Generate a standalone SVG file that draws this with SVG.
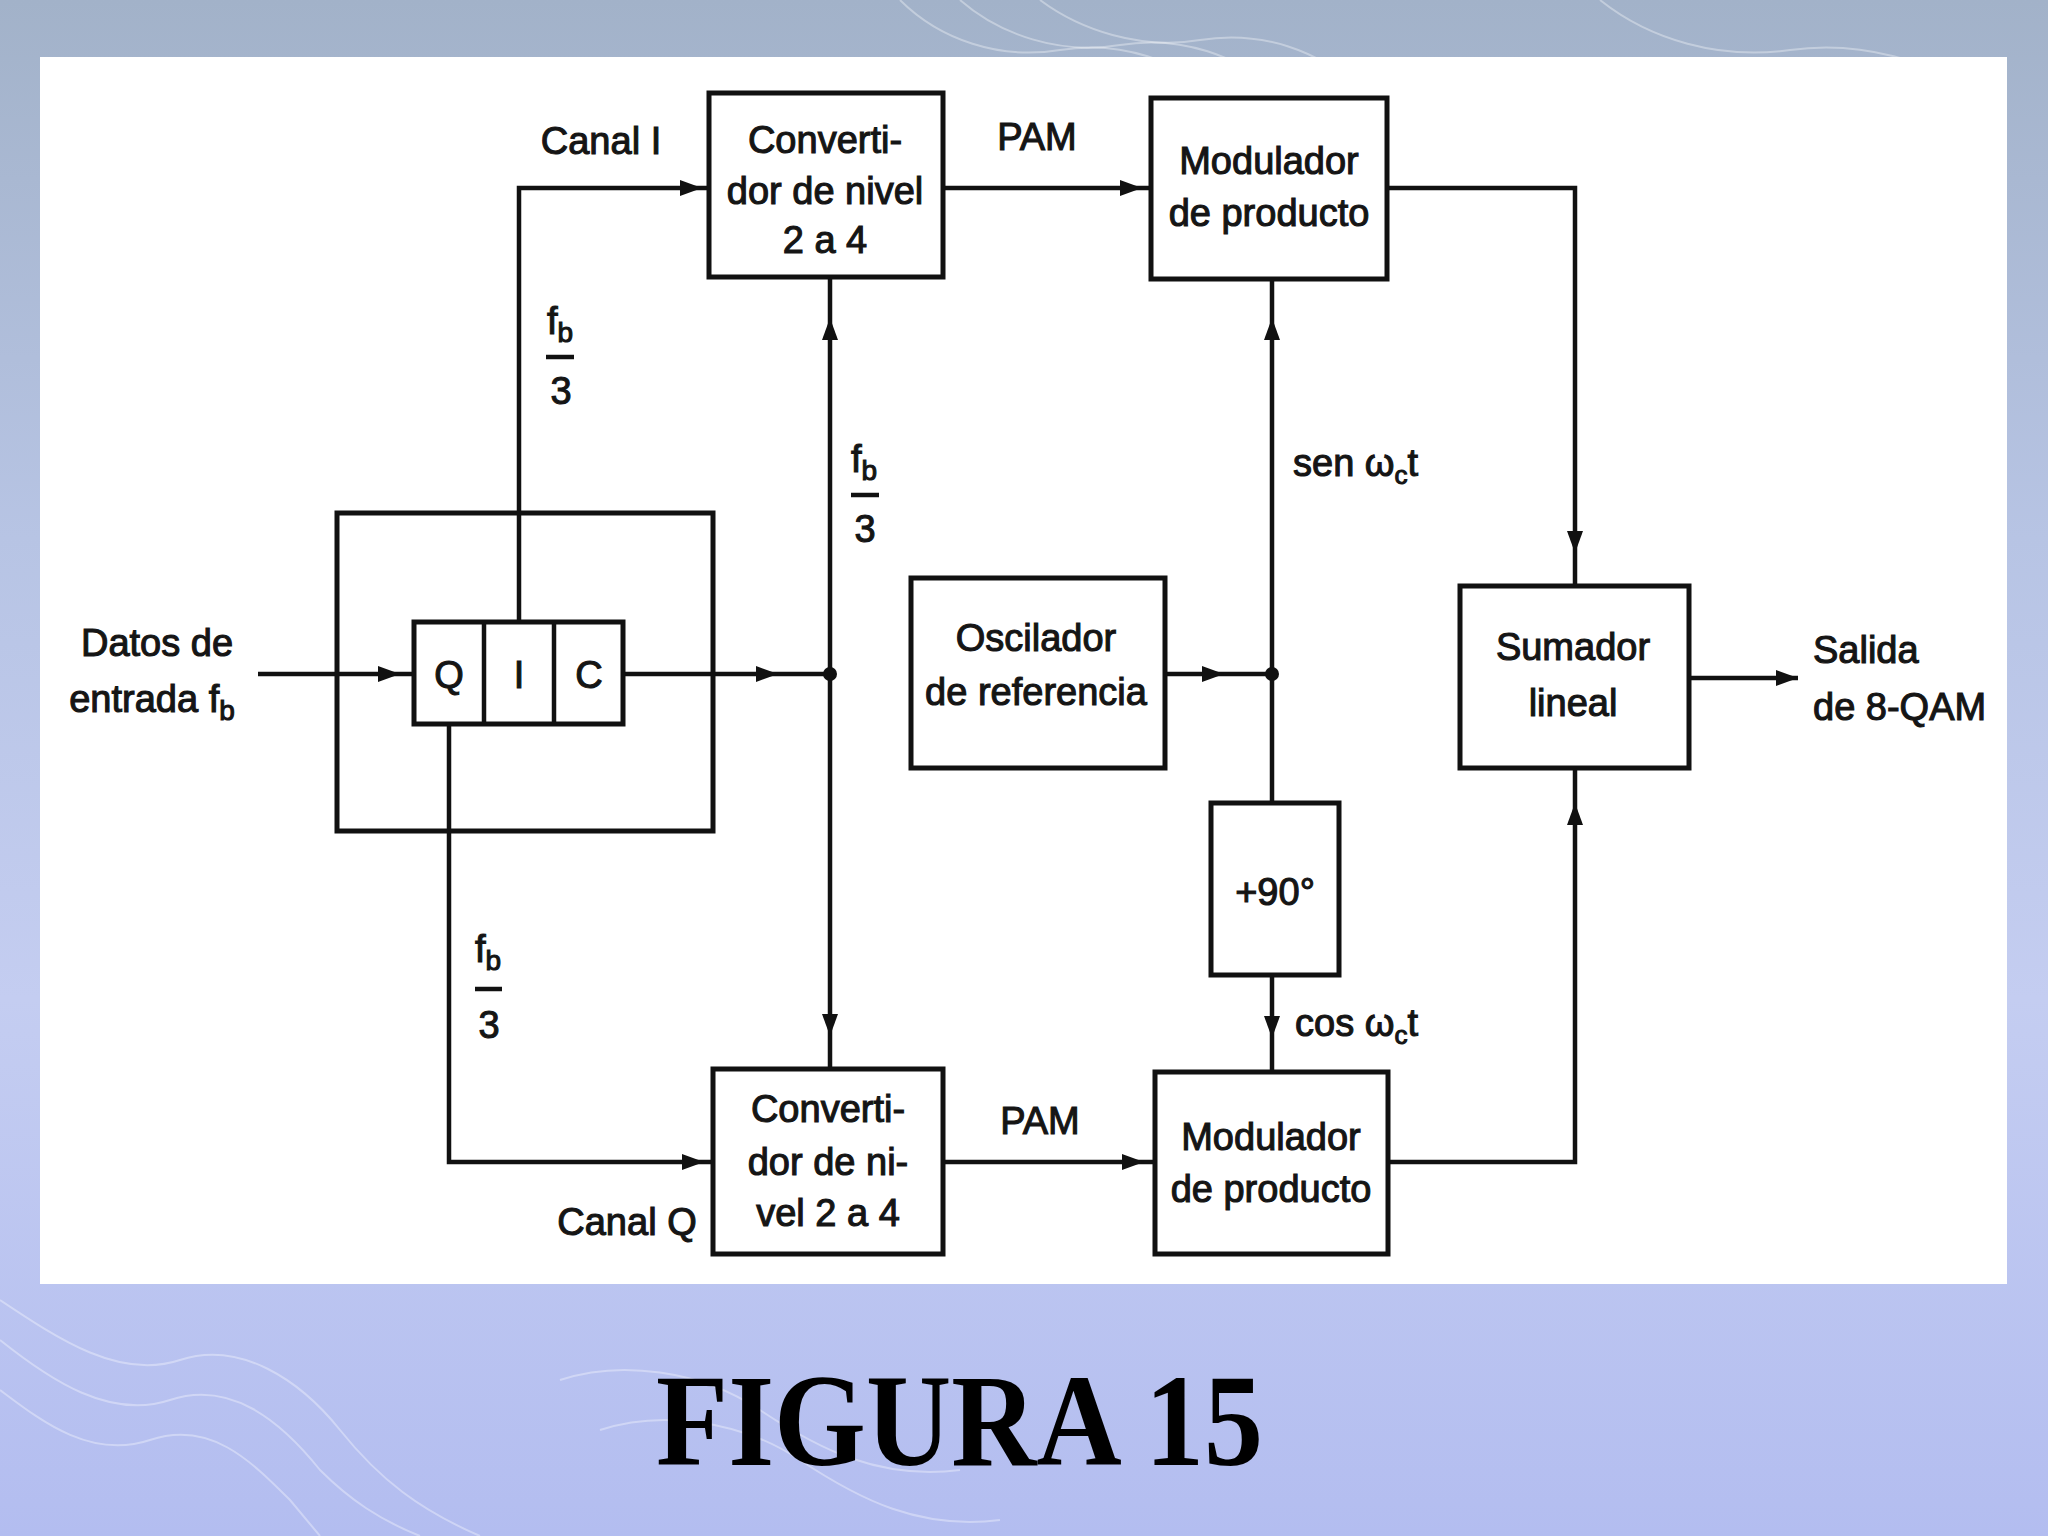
<svg xmlns="http://www.w3.org/2000/svg" xmlns:xlink="http://www.w3.org/1999/xlink" width="2048" height="1536" viewBox="0 0 2048 1536">
<defs>
<linearGradient id="bg" x1="0" y1="0" x2="0" y2="1">
<stop offset="0" stop-color="#a2b2c9"/>
<stop offset="0.35" stop-color="#b7c4e4"/>
<stop offset="0.65" stop-color="#c4cdf1"/>
<stop offset="1" stop-color="#b3bdf0"/>
</linearGradient>
<path id="ah" d="M0,0 L-22,-8 L-22,8 Z"/>
<style>
.box{fill:#fff;stroke:#111;stroke-width:5}
.ln{fill:none;stroke:#111;stroke-width:4.5}
.ar{fill:#111}
.t{font-family:"Liberation Sans",Arial,sans-serif;font-size:38px;fill:#151515;stroke:#151515;stroke-width:1.1;text-anchor:middle}
.s{text-anchor:start}
.wave{fill:none;stroke:#ffffff;stroke-opacity:0.35;stroke-width:2}
.fig{font-family:"Liberation Serif","Times New Roman",serif;font-size:132px;font-weight:bold;fill:#000;text-anchor:start}
</style>
</defs>
<rect x="0" y="0" width="2048" height="1536" fill="url(#bg)"/>
<g id="decor">
<path class="wave" d="M900,0 C940,40 1000,60 1060,50 C1120,40 1180,60 1220,100"/>
<path class="wave" d="M960,0 C1000,35 1060,55 1120,45 C1180,35 1240,55 1280,95"/>
<path class="wave" d="M1040,0 C1080,30 1140,50 1200,40 C1260,30 1320,50 1360,90"/>
<path class="wave" d="M1600,0 C1650,40 1720,60 1790,50 C1860,40 1930,60 1990,100"/>
<path class="wave" d="M0,1300 C60,1340 120,1380 180,1360 C240,1340 300,1380 340,1430 C380,1480 420,1510 480,1536"/>
<path class="wave" d="M0,1340 C50,1380 110,1420 170,1400 C230,1380 280,1420 320,1470 C350,1500 380,1520 420,1536"/>
<path class="wave" d="M0,1390 C40,1420 90,1460 150,1440 C210,1420 250,1460 290,1500 L320,1536"/>
<path class="wave" d="M560,1380 C620,1360 700,1370 760,1410 C820,1450 880,1480 960,1470"/>
<path class="wave" d="M600,1430 C660,1410 740,1420 800,1460 C860,1500 920,1530 1000,1520"/>
</g>
<rect x="40" y="57" width="1967" height="1227" fill="#ffffff"/>

<g id="connectors">
<path class="ln" d="M258,674 H414"/>
<path class="ln" d="M623,674 H830"/>
<path class="ln" d="M830,277 V1069"/>
<path class="ln" d="M519,622 V188 H709"/>
<path class="ln" d="M449,724 V1162 H713"/>
<path class="ln" d="M943,188 H1151"/>
<path class="ln" d="M943,1162 H1155"/>
<path class="ln" d="M1387,188 H1575 V586"/>
<path class="ln" d="M1388,1162 H1575 V768"/>
<path class="ln" d="M1689,678 H1798"/>
<path class="ln" d="M1165,674 H1272"/>
<path class="ln" d="M1272,279 V803"/>
<path class="ln" d="M1272,975 V1072"/>
<use class="ar" xlink:href="#ah" transform="translate(400,674)"/>
<use class="ar" xlink:href="#ah" transform="translate(778,674)"/>
<use class="ar" xlink:href="#ah" transform="translate(830,318) rotate(-90)"/>
<use class="ar" xlink:href="#ah" transform="translate(830,1036) rotate(90)"/>
<use class="ar" xlink:href="#ah" transform="translate(702,188)"/>
<use class="ar" xlink:href="#ah" transform="translate(704,1162)"/>
<use class="ar" xlink:href="#ah" transform="translate(1142,188)"/>
<use class="ar" xlink:href="#ah" transform="translate(1144,1162)"/>
<use class="ar" xlink:href="#ah" transform="translate(1575,553) rotate(90)"/>
<use class="ar" xlink:href="#ah" transform="translate(1575,803) rotate(-90)"/>
<use class="ar" xlink:href="#ah" transform="translate(1798,678)"/>
<use class="ar" xlink:href="#ah" transform="translate(1224,674)"/>
<use class="ar" xlink:href="#ah" transform="translate(1272,318) rotate(-90)"/>
<use class="ar" xlink:href="#ah" transform="translate(1272,1038) rotate(90)"/>
<circle class="ar" cx="830" cy="674" r="7"/>
<circle class="ar" cx="1272" cy="674" r="7"/>
</g>

<g id="register">
<rect x="337" y="513" width="376" height="318" fill="none" stroke="#111" stroke-width="5"/>
</g>
<g id="qic">
<rect class="box" x="414" y="622" width="209" height="102"/>
<line class="ln" x1="484" y1="622" x2="484" y2="724"/>
<line class="ln" x1="554" y1="622" x2="554" y2="724"/>
<text class="t" x="449" y="688">Q</text>
<text class="t" x="519" y="688">I</text>
<text class="t" x="589" y="688">C</text>
</g>
<g id="conv-top">
<rect class="box" x="709" y="93" width="234" height="184"/>
<text class="t" x="825" y="153">Converti-</text>
<text class="t" x="825" y="204">dor de nivel</text>
<text class="t" x="825" y="253">2 a 4</text>
</g>
<g id="mod-top">
<rect class="box" x="1151" y="98" width="236" height="181"/>
<text class="t" x="1269" y="174">Modulador</text>
<text class="t" x="1269" y="226">de producto</text>
</g>
<g id="oscilador">
<rect class="box" x="911" y="578" width="254" height="190"/>
<text class="t" x="1036" y="651">Oscilador</text>
<text class="t" x="1036" y="705">de referencia</text>
</g>
<g id="sumador">
<rect class="box" x="1460" y="586" width="229" height="182"/>
<text class="t" x="1573" y="660">Sumador</text>
<text class="t" x="1573" y="716">lineal</text>
</g>
<g id="desfase">
<rect class="box" x="1211" y="803" width="128" height="172"/>
<text class="t" x="1275" y="905">+90°</text>
</g>
<g id="conv-bottom">
<rect class="box" x="713" y="1069" width="230" height="185"/>
<text class="t" x="828" y="1122">Converti-</text>
<text class="t" x="828" y="1175">dor de ni-</text>
<text class="t" x="828" y="1226">vel 2 a 4</text>
</g>
<g id="mod-bottom">
<rect class="box" x="1155" y="1072" width="233" height="182"/>
<text class="t" x="1271" y="1150">Modulador</text>
<text class="t" x="1271" y="1202">de producto</text>
</g>

<g id="labels">
<text class="t" x="157" y="656">Datos de</text>
<text class="t" x="152" y="712">entrada f<tspan font-size="28" dy="8">b</tspan></text>
<text class="t" x="601" y="154">Canal I</text>
<text class="t" x="1037" y="150">PAM</text>
<text class="t" x="1040" y="1134">PAM</text>
<text class="t" x="627" y="1235">Canal Q</text>
<text class="t s" x="1813" y="663">Salida</text>
<text class="t s" x="1813" y="720">de 8-QAM</text>
<text class="t s" x="1293" y="476">sen ω<tspan font-size="26" dy="8">c</tspan><tspan dy="-8">t</tspan></text>
<text class="t s" x="1295" y="1036">cos ω<tspan font-size="26" dy="8">c</tspan><tspan dy="-8">t</tspan></text>
<text class="t" x="560" y="334">f<tspan font-size="28" dy="8">b</tspan></text>
<line class="ln" x1="546" y1="357" x2="574" y2="357"/>
<text class="t" x="561" y="404">3</text>
<text class="t" x="864" y="472">f<tspan font-size="28" dy="8">b</tspan></text>
<line class="ln" x1="851" y1="495" x2="879" y2="495"/>
<text class="t" x="865" y="542">3</text>
<text class="t" x="488" y="962">f<tspan font-size="28" dy="8">b</tspan></text>
<line class="ln" x1="475" y1="989" x2="502" y2="989"/>
<text class="t" x="489" y="1038">3</text>
</g>

<text class="fig" x="656" y="1465" textLength="607" lengthAdjust="spacingAndGlyphs">FIGURA 15</text>
</svg>
